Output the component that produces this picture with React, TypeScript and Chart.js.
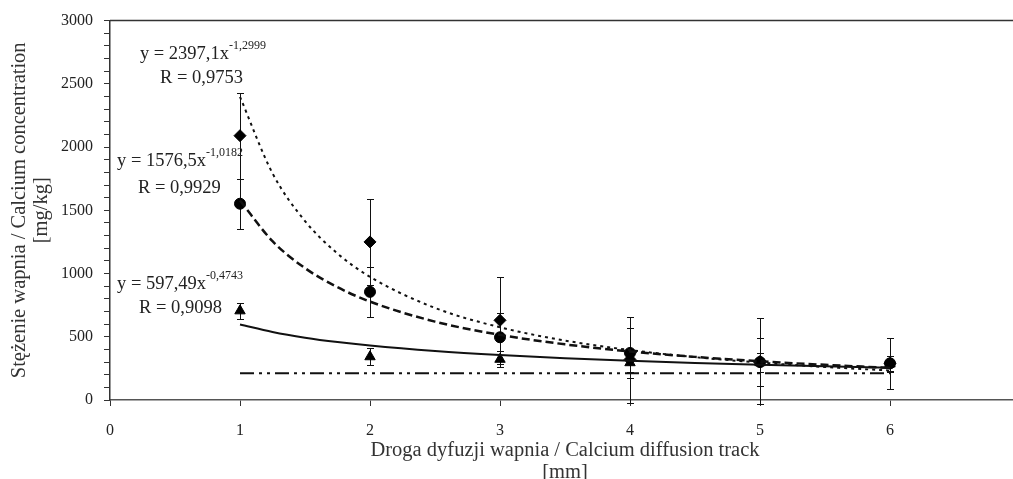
import React, { useEffect, useRef } from "react";
import { Chart, registerables } from "chart.js";

Chart.register(...registerables);

// ---- data ----
const xPositions = [1, 2, 3, 4, 5, 6];
const xTickValues = [0, 1, 2, 3, 4, 5, 6, 7];

const diamondValues = [2090, 1250, 630, 320, 305, 290];
const diamondErrors = [340, 340, 345, 340, 340, 200];

const circleValues = [1552, 855, 496, 372, 300, 290];
const circleErrors = [198, 200, 190, 200, 190, 60];

const triangleValues = [705, 342, 322, 295, 295, 285];
const triangleErrors = [62, 68, 65, 75, 75, 65];

const controlX = [1, 6];
const controlValues = [212, 212];

const trendX = [1, 1.25, 1.5, 1.75, 2, 2.5, 3, 3.5, 4, 4.5, 5, 5.5, 6];
const trendDotted = [2397, 1793, 1415, 1158, 974, 728, 575, 470, 395, 339, 296, 261, 233];
const trendDashed = [1577, 1256, 1043, 892, 778, 620, 515, 440, 384, 341, 306, 278, 254];
const trendSolid = [597, 538, 493, 458, 430, 387, 355, 330, 310, 293, 278, 266, 255];

const eqMain = ["y = 2397,1x", "y = 1576,5x", "y = 597,49x"];
const eqExp = ["-1,2999", "-1,0182", "-0,4743"];
const eqR = ["R = 0,9753", "R = 0,9929", "R = 0,9098"];

const xTitle = ["Droga dyfuzji wapnia / Calcium diffusion track", "[mm]"];
const yTitle = ["Stężenie wapnia / Calcium concentration", "[mg/kg]"];

// annotation anchors in data units (x, baseline y)
const eqAnchors = [
  { x: 0.23, y: 2700, rx: 0.385, ry: 2504 },
  { x: 0.054, y: 1850, rx: 0.215, ry: 1638 },
  { x: 0.054, y: 874, rx: 0.223, ry: 685 },
];

const FONT = "'Liberation Serif', 'Times New Roman', serif";
const TEXT = "#222";

const pts = (xs: number[], ys: number[]) => xs.map((x, i) => ({ x, y: ys[i] }));

const errorBarPlugin = {
  id: "errorBars",
  beforeDatasetsDraw(chart: any) {
    const { ctx, scales } = chart;
    const xs = scales.x;
    const ys = scales.y;
    const groups = [
      [diamondValues, diamondErrors],
      [circleValues, circleErrors],
      [triangleValues, triangleErrors],
    ];
    ctx.save();
    ctx.strokeStyle = "#111";
    ctx.lineWidth = 1;
    for (const [vals, errs] of groups) {
      vals.forEach((v: number, i: number) => {
        const px = Math.round(xs.getPixelForValue(xPositions[i])) + 0.5;
        const t = Math.round(ys.getPixelForValue(v + errs[i])) + 0.5;
        const b = Math.round(ys.getPixelForValue(v - errs[i])) + 0.5;
        ctx.beginPath();
        ctx.moveTo(px, t);
        ctx.lineTo(px, b);
        ctx.moveTo(px - 3.5, t);
        ctx.lineTo(px + 3.5, t);
        ctx.moveTo(px - 3.5, b);
        ctx.lineTo(px + 3.5, b);
        ctx.stroke();
      });
    }
    ctx.restore();
  },
};

const framePlugin = {
  id: "frame",
  afterDraw(chart: any) {
    const { ctx, chartArea, scales } = chart;
    ctx.save();
    // top border
    ctx.strokeStyle = "#333";
    ctx.lineWidth = 1.5;
    ctx.beginPath();
    ctx.moveTo(chartArea.left, chartArea.top);
    ctx.lineTo(chartArea.right, chartArea.top);
    ctx.stroke();

    // equations
    ctx.fillStyle = TEXT;
    ctx.textBaseline = "alphabetic";
    ctx.textAlign = "left";
    eqAnchors.forEach((a, i) => {
      const x = scales.x.getPixelForValue(a.x);
      const y = scales.y.getPixelForValue(a.y);
      ctx.font = `18.5px ${FONT}`;
      ctx.fillText(eqMain[i], x, y);
      const w = ctx.measureText(eqMain[i]).width;
      ctx.font = `12px ${FONT}`;
      ctx.fillText(eqExp[i], x + w, y - 10);
      ctx.font = `18.5px ${FONT}`;
      ctx.fillText(eqR[i], scales.x.getPixelForValue(a.rx), scales.y.getPixelForValue(a.ry));
    });
    ctx.restore();
  },
};

export default function App() {
  const ref = useRef<HTMLCanvasElement | null>(null);

  useEffect(() => {
    if (!ref.current) return;
    const chart = new Chart(ref.current, {
      type: "line",
      data: {
        datasets: [
          {
            data: pts(trendX, trendDotted),
            borderColor: "#111",
            borderWidth: 2,
            borderDash: [3, 4],
            pointRadius: 0,
            cubicInterpolationMode: "monotone",
            fill: false,
          },
          {
            data: pts(trendX, trendDashed),
            borderColor: "#111",
            borderWidth: 2.5,
            borderDash: [8, 4],
            pointRadius: 0,
            cubicInterpolationMode: "monotone",
            fill: false,
          },
          {
            data: pts(trendX, trendSolid),
            borderColor: "#111",
            borderWidth: 2,
            pointRadius: 0,
            cubicInterpolationMode: "monotone",
            fill: false,
          },
          {
            data: pts(controlX, controlValues),
            borderColor: "#111",
            borderWidth: 2,
            borderDash: [14, 5, 3, 5, 3, 5],
            pointRadius: 0,
            fill: false,
          },
          {
            data: pts(xPositions, diamondValues),
            showLine: false,
            pointStyle: "rectRot",
            pointRadius: 6,
            backgroundColor: "#000",
            borderColor: "#000",
            borderWidth: 1,
          },
          {
            data: pts(xPositions, circleValues),
            showLine: false,
            pointStyle: "circle",
            pointRadius: 5.5,
            backgroundColor: "#000",
            borderColor: "#000",
            borderWidth: 1,
          },
          {
            data: pts(xPositions, triangleValues),
            showLine: false,
            pointStyle: "triangle",
            pointRadius: 6,
            backgroundColor: "#000",
            borderColor: "#000",
            borderWidth: 1,
          },
        ],
      } as any,
      options: {
        animation: false,
        responsive: false,
        devicePixelRatio: 1,
        layout: { autoPadding: false, padding: { top: 19, right: 20, left: 0, bottom: 0 } },
        plugins: { legend: { display: false }, tooltip: { enabled: false } },
        scales: {
          x: {
            type: "linear",
            min: 0,
            max: 7,
            afterBuildTicks: (s: any) => {
              s.ticks = xTickValues.map((v) => ({ value: v }));
            },
            ticks: {
              color: TEXT,
              font: { family: FONT, size: 16 },
              padding: 15,
              autoSkip: false,
              maxRotation: 0,
            },
            grid: { drawOnChartArea: false, drawTicks: true, tickLength: 6, color: "#333" },
            border: { display: true, color: "#555", width: 1.5 },
            title: {
              display: true,
              text: xTitle,
              color: "#333",
              font: { family: FONT, size: 20.5, lineHeight: "22px" },
              padding: { top: 0, bottom: -5 },
            },
            afterFit: (s: any) => {
              s.height = 79;
            },
          },
          y: {
            type: "linear",
            min: 0,
            max: 3000,
            ticks: {
              stepSize: 100,
              maxTicksLimit: 100,
              autoSkip: false,
              color: TEXT,
              font: { family: FONT, size: 16 },
              padding: 11,
              callback: (v: any) => (Number(v) % 500 === 0 ? String(v) : ""),
            },
            grid: { drawOnChartArea: false, drawTicks: true, tickLength: 6, color: "#333" },
            border: { display: true, color: "#333", width: 1.5 },
            title: {
              display: true,
              text: yTitle,
              color: "#333",
              font: { family: FONT, size: 20.5, lineHeight: "22px" },
              padding: { top: 9, bottom: 0 },
            },
            afterFit: (s: any) => {
              s.width = 110;
            },
          },
        },
      } as any,
      plugins: [errorBarPlugin, framePlugin],
    });
    return () => chart.destroy();
  }, []);

  return (
    <div
      style={{
        position: "fixed",
        left: 0,
        top: 0,
        width: 1013,
        height: 479,
        overflow: "hidden",
        background: "#fff",
      }}
    >
      <canvas ref={ref} width={1040} height={479} style={{ display: "block" }} />
    </div>
  );
}
